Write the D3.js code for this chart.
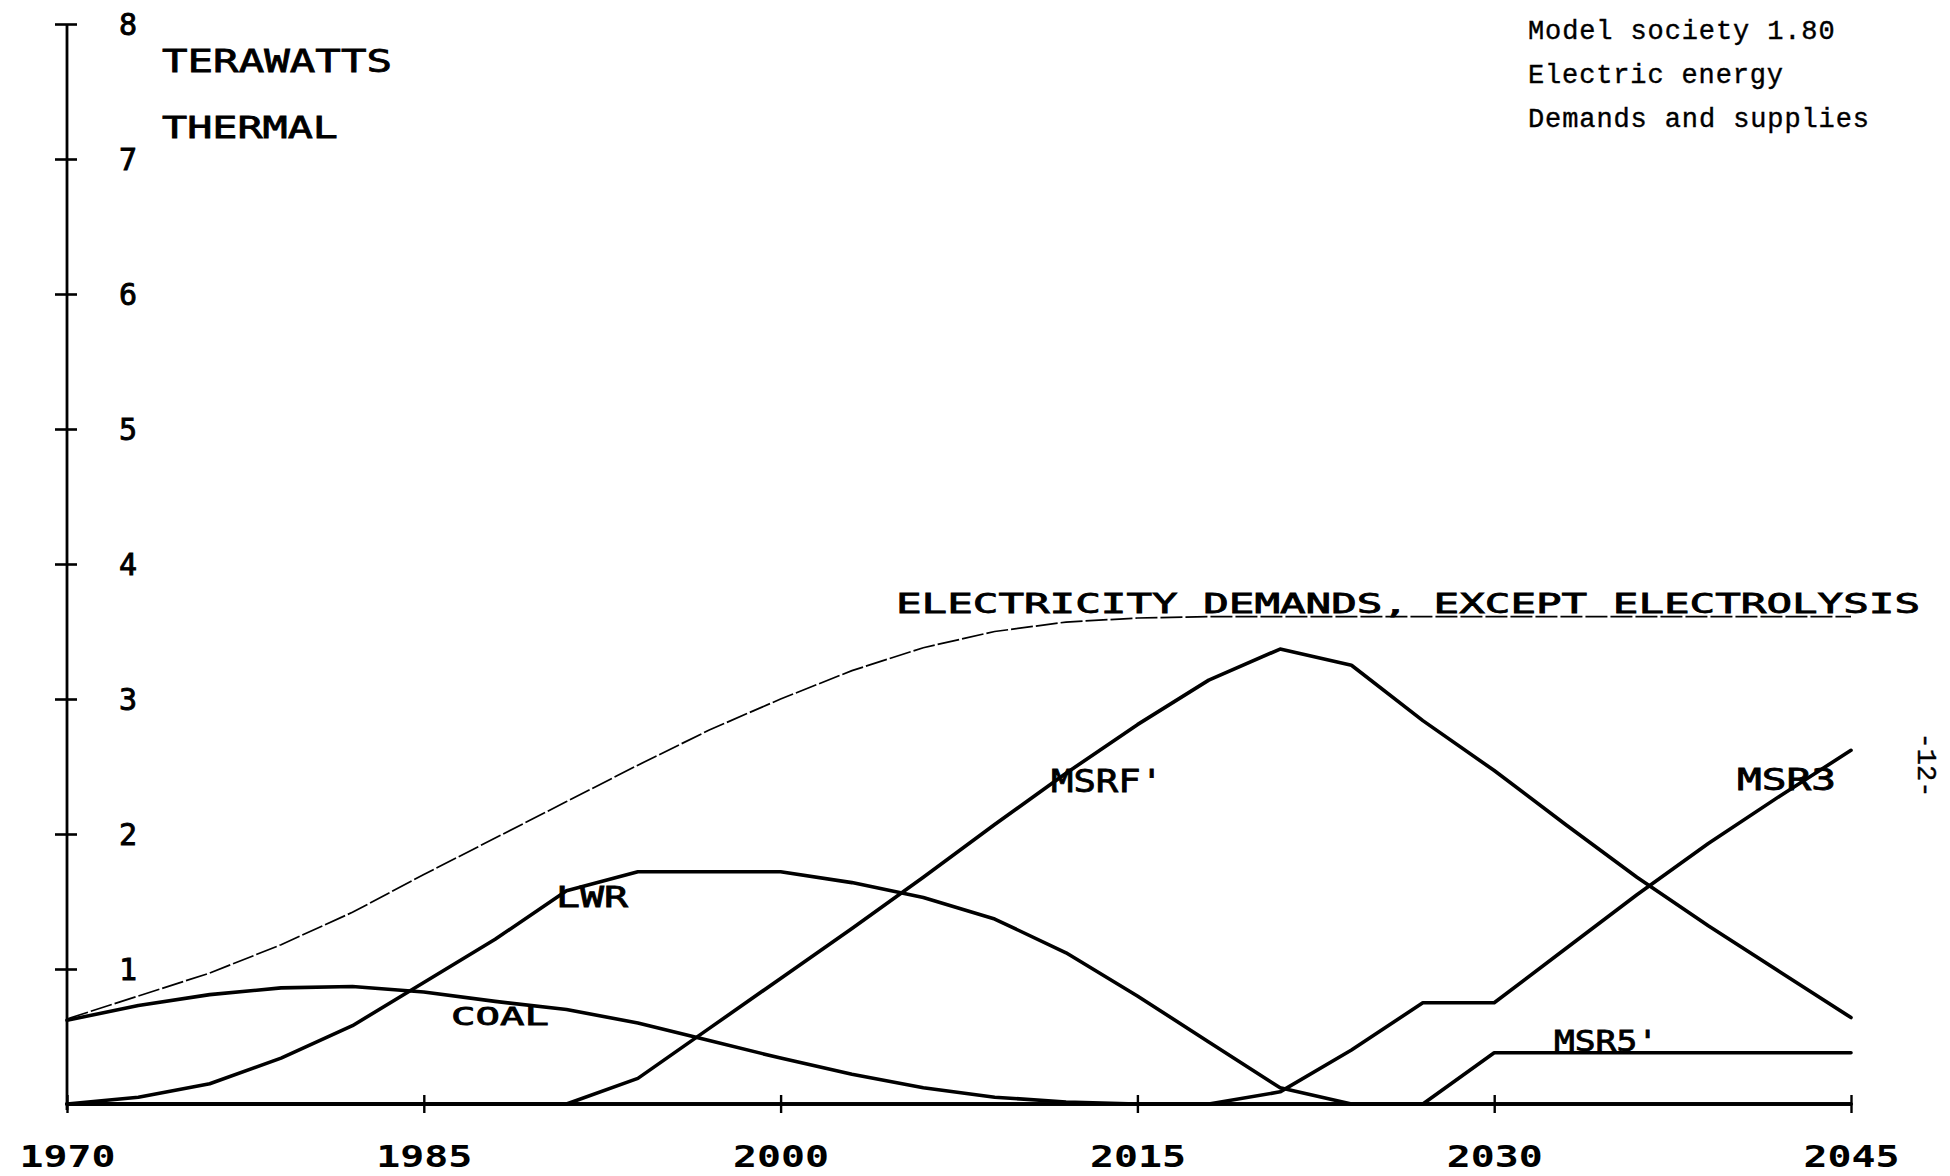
<!DOCTYPE html>
<html>
<head>
<meta charset="utf-8">
<script src="https://cdn.jsdelivr.net/npm/d3@7"></script>
<style>
  html, body { margin: 0; padding: 0; background: #fff; }
  svg { display: block; }
</style>
</head>
<body>
<svg id="chart" width="1950" height="1176"></svg>
<script>
// Model years (3-year steps of the simulation output)
const years = [1970, 1973, 1976, 1979, 1982, 1985, 1988, 1991, 1994, 1997, 2000, 2003, 2006,
               2009, 2012, 2015, 2018, 2021, 2024, 2027, 2030, 2033, 2036, 2039, 2042, 2045];

// Terawatts thermal
const demand = [0.63, 0.80, 0.97, 1.18, 1.42, 1.70, 1.97, 2.24, 2.51, 2.77, 3.00, 3.21, 3.38,
                3.50, 3.57, 3.60, 3.61, 3.61, 3.61, 3.61, 3.61, 3.61, 3.61, 3.61, 3.61, 3.61];
const coal   = [0.62, 0.73, 0.81, 0.86, 0.87, 0.83, 0.76, 0.70, 0.60, 0.47, 0.34, 0.22, 0.12,
                0.05, 0.015, 0, 0, 0, 0, 0, 0, 0, 0, 0, 0, 0];
const lwr    = [0, 0.05, 0.15, 0.34, 0.58, 0.90, 1.22, 1.58, 1.72, 1.72, 1.72, 1.64, 1.53,
                1.37, 1.12, 0.80, 0.46, 0.12, 0, 0, 0, 0, 0, 0, 0, 0];
const msrf   = [0, 0, 0, 0, 0, 0, 0, 0, 0.19, 0.56, 0.93, 1.30, 1.68,
                2.07, 2.45, 2.81, 3.14, 3.37, 3.25, 2.84, 2.47, 2.07, 1.68, 1.32, 0.98, 0.64];
const msr3   = [0, 0, 0, 0, 0, 0, 0, 0, 0, 0, 0, 0, 0,
                0, 0, 0, 0, 0.09, 0.40, 0.75, 0.75, 1.15, 1.55, 1.93, 2.28, 2.62];
const msr5   = [0, 0, 0, 0, 0, 0, 0, 0, 0, 0, 0, 0, 0,
                0, 0, 0, 0, 0, 0, 0, 0.38, 0.38, 0.38, 0.38, 0.38, 0.38];

const yearTicks  = [1970, 1985, 2000, 2015, 2030, 2045];
const valueTicks = [1, 2, 3, 4, 5, 6, 7, 8];
const headerLines = ["Model society 1.80", "Electric energy", "Demands and supplies"];
const unitLines = ["TERAWATTS", "THERMAL"];
const pageNumber = "-12-";

const PLOT_FONT = "'DejaVu Sans Mono', monospace";
const TYPE_FONT = "'Liberation Mono', 'Courier New', monospace";

const svg = d3.select("#chart");
svg.append("rect").attr("width", 1950).attr("height", 1176).attr("fill", "#fff");

const x = d3.scaleLinear().domain([1970, 2045]).range([67, 1851]);
const y = d3.scaleLinear().domain([0, 8]).range([1104, 24]);

// ---- axes ----
const yAxis = svg.append("g")
  .attr("transform", `translate(${x(1970)},0)`)
  .call(d3.axisRight(y).tickValues(valueTicks).tickSize(10).tickFormat(d3.format("d")));
yAxis.select(".domain").remove();
yAxis.selectAll(".tick line")
  .attr("x1", -12).attr("x2", 10)
  .attr("stroke", "#000").attr("stroke-width", 2.6);
yAxis.selectAll(".tick text")
  .attr("x", 61).attr("dy", "0.36em")
  .attr("text-anchor", "middle")
  .attr("fill", "#000")
  .attr("stroke", "#000").attr("stroke-width", 0.9)
  .style("font-family", PLOT_FONT)
  .style("font-size", "30px");

svg.append("line")
  .attr("x1", x(1970)).attr("x2", x(1970))
  .attr("y1", y(8)).attr("y2", y(0) + 6)
  .attr("stroke", "#000").attr("stroke-width", 2.8);

const xAxis = svg.append("g")
  .attr("transform", `translate(0,${y(0)})`)
  .call(d3.axisBottom(x).tickValues(yearTicks).tickSize(9).tickFormat(d3.format("d")));
xAxis.select(".domain").remove();
xAxis.selectAll(".tick line")
  .attr("y1", -9).attr("y2", 9)
  .attr("stroke", "#000").attr("stroke-width", 2.4);
xAxis.selectAll(".tick text")
  .attr("y", 63).attr("dy", 0)
  .attr("text-anchor", "middle")
  .attr("fill", "#000")
  .attr("textLength", 96)
  .attr("lengthAdjust", "spacingAndGlyphs")
  .style("font-family", PLOT_FONT)
  .style("font-weight", "bold")
  .style("font-size", "30px");

svg.append("line")
  .attr("x1", x(1970)).attr("x2", x(2045))
  .attr("y1", y(0)).attr("y2", y(0))
  .attr("stroke", "#000").attr("stroke-width", 3.2);

// ---- curves ----
const line = d3.line().x((d, i) => x(years[i])).y(d => y(d));

svg.append("path")
  .datum(demand)
  .attr("d", line)
  .attr("fill", "none")
  .attr("stroke", "#000")
  .attr("stroke-width", 1.7)
  .attr("stroke-dasharray", "22,3");

[coal, lwr, msrf, msr3, msr5].forEach(series => {
  svg.append("path")
    .datum(series)
    .attr("d", line)
    .attr("fill", "none")
    .attr("stroke", "#000")
    .attr("stroke-width", 3.6)
    .attr("stroke-linejoin", "round")
    .attr("stroke-linecap", "round");
});

// ---- plotter-style labels ----
function plotText(str, px, py, size, len) {
  svg.append("text")
    .attr("x", px).attr("y", py)
    .attr("textLength", len)
    .attr("lengthAdjust", "spacingAndGlyphs")
    .attr("fill", "#000")
    .attr("stroke", "#000").attr("stroke-width", 0.8)
    .style("font-family", PLOT_FONT)
    .style("font-size", size + "px")
    .text(str);
}

plotText(unitLines[0], 162, 72, 32, 230);
plotText(unitLines[1], 162, 138, 30, 176);
plotText("ELECTRICITY DEMANDS, EXCEPT ELECTROLYSIS", 896, 613, 26, 1024);
plotText("LWR", 556, 907, 28, 72);
plotText("COAL", 451, 1025, 25, 98);
plotText("MSRF'", 1051, 792, 32, 112);
plotText("MSR3", 1737, 790, 30, 99);
plotText("MSR5'", 1554, 1051, 28, 104);

// ---- typewritten caption ----
svg.append("g").selectAll("text")
  .data(headerLines)
  .join("text")
  .attr("x", 1528)
  .attr("y", (d, i) => 39 + i * 44)
  .attr("textLength", d => d.length * 17.2 - 3)
  .attr("lengthAdjust", "spacing")
  .attr("fill", "#000")
  .attr("stroke", "#000").attr("stroke-width", 0.4)
  .style("font-family", TYPE_FONT)
  .style("font-size", "27px")
  .text(d => d);

svg.append("text")
  .attr("transform", "translate(1918,765) rotate(90)")
  .attr("text-anchor", "middle")
  .attr("fill", "#000")
  .attr("stroke", "#000").attr("stroke-width", 0.4)
  .style("font-family", TYPE_FONT)
  .style("font-size", "27px")
  .text(pageNumber);
</script>
</body>
</html>
